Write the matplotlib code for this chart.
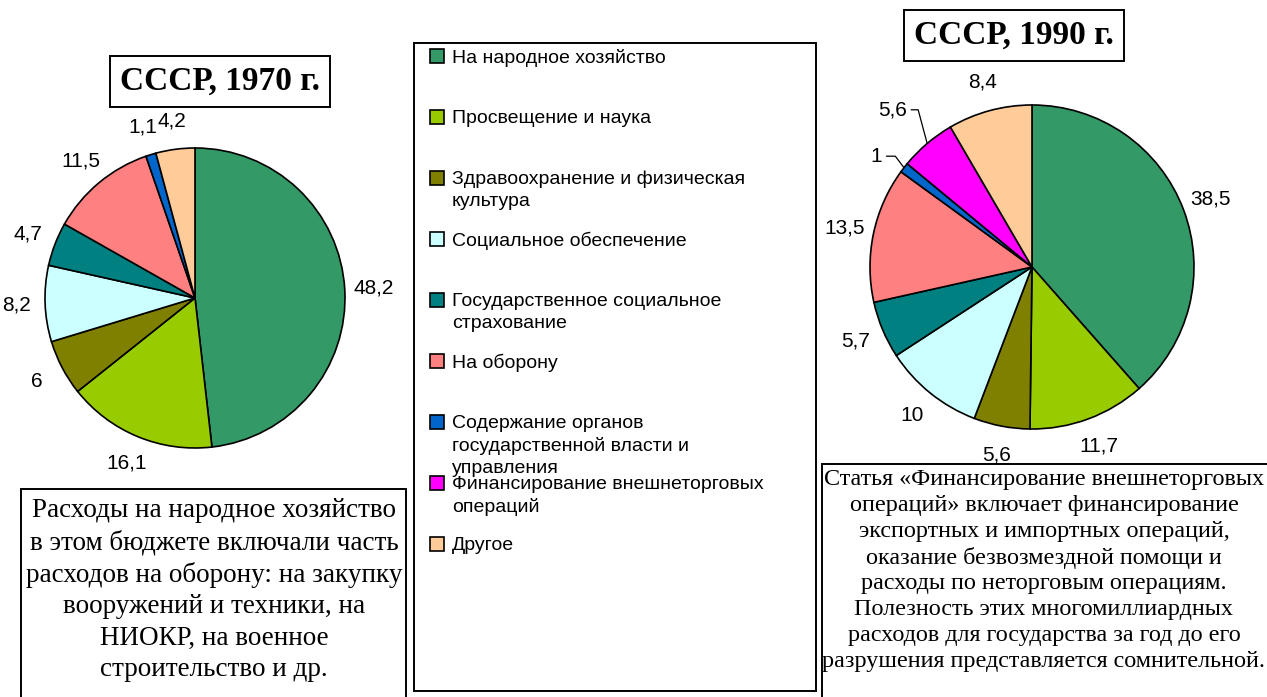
import numpy as np
import matplotlib.pyplot as plt
from matplotlib.patches import Rectangle

# ------------------------------------------------------------------
# Данные: структура расходов госбюджета СССР, %
# ------------------------------------------------------------------
categories = [
    'На народное хозяйство',
    'Просвещение и наука',
    'Здравоохранение и физическая\nкультура',
    'Социальное обеспечение',
    'Государственное социальное\nстрахование',
    'На оборону',
    'Содержание органов\nгосударственной власти и\nуправления',
    'Финансирование внешнеторговых\nопераций',
    'Другое',
]
colors = ['#339966', '#99CC00', '#808000', '#CCFFFF', '#008080',
          '#FF8080', '#0066CC', '#FF00FF', '#FFCC99']

values_1970 = [48.2, 16.1, 6, 8.2, 4.7, 11.5, 1.1, 0, 4.2]
values_1990 = [38.5, 11.7, 5.6, 10, 5.7, 13.5, 1, 5.6, 8.4]

note_1970 = ('Расходы на народное хозяйство\n'
             'в этом бюджете включали часть\n'
             'расходов на оборону: на закупку\n'
             'вооружений и техники, на\n'
             'НИОКР, на военное\n'
             'строительство и др.')
note_1990 = ('Статья «Финансирование внешнеторговых\n'
             'операций» включает финансирование\n'
             'экспортных и импортных операций,\n'
             'оказание безвозмездной помощи и\n'
             'расходы по неторговым операциям.\n'
             'Полезность этих многомиллиардных\n'
             'расходов для государства за год до его\n'
             'разрушения представляется сомнительной.')

W, H = 1267, 697
SANS = ['Liberation Sans', 'DejaVu Sans']
SERIF = ['Liberation Serif', 'DejaVu Serif']


def fmt(v):
    return f'{v:g}'.replace('.', ',')


fig = plt.figure(figsize=(W / 100, H / 100), dpi=100)
ax = fig.add_axes([0, 0, 1, 1])


def draw_pie(values, cx, cy, r, dist, callouts=None):
    callouts = callouts or {}
    idx = [i for i, v in enumerate(values) if v > 0]
    vals = [values[i] for i in idx]
    wedges, _ = ax.pie(vals, colors=[colors[i] for i in idx], startangle=90,
                       counterclock=False, center=(cx, cy), radius=r,
                       wedgeprops=dict(edgecolor='black', linewidth=1.2))
    for w, i, v in zip(wedges, idx, vals):
        ang = np.deg2rad((w.theta1 + w.theta2) / 2)
        if i in callouts:
            # подпись с выноской
            d, a_txt, ang_b = callouts[i]
            a_txt = np.deg2rad(a_txt)
            ax.annotate(fmt(v), xy=(cx + r * np.cos(ang), cy + r * np.sin(ang)),
                        xytext=(cx + d * r * np.cos(a_txt), cy + d * r * np.sin(a_txt)),
                        ha='right', va='center', fontsize=15, family=SANS,
                        arrowprops=dict(arrowstyle='-', color='black', lw=0.9,
                                        shrinkA=1, shrinkB=0, relpos=(1, 0.5),
                                        connectionstyle=f'angle,angleA=0,angleB={ang_b},rad=0'))
        else:
            ax.text(cx + dist * r * np.cos(ang), cy + dist * r * np.sin(ang), fmt(v),
                    ha='center', va='center', fontsize=15, family=SANS)


draw_pie(values_1970, 195, H - 298, 150, 1.19)
draw_pie(values_1990, 1032, H - 267, 162, 1.18,
         callouts={6: (1.15, 143.5, 127), 7: (1.24, 128.5, 105)})

# заголовки
title_box = dict(boxstyle='square,pad=0.3', fc='white', ec='black', lw=1.4)
ax.text(220, H - 81, 'СССР, 1970 г.', ha='center', va='center', fontsize=24,
        fontweight='bold', family=SERIF, bbox=title_box)
ax.text(1014, H - 35, 'СССР, 1990 г.', ha='center', va='center', fontsize=24,
        fontweight='bold', family=SERIF, bbox=title_box)

# легенда
ax.add_patch(Rectangle((414, H - 691), 402, 648, fc='white', ec='black', lw=1.4))
for k, (name, c) in enumerate(zip(categories, colors)):
    y = H - 56 - 61 * k
    ax.add_patch(Rectangle((430, y - 7), 14, 14, fc=c, ec='black', lw=1.2))
    ax.text(452, y + 7, name, ha='left', va='top', fontsize=14,
            family=SANS, linespacing=1.36)

# пояснения
ax.add_patch(Rectangle((21, -10), 385, H - 489 + 10, fc='white', ec='black', lw=1.4))
ax.text(214, H - 498, note_1970, ha='center', va='top', fontsize=19.5,
        family=SERIF, linespacing=1.34)
ax.add_patch(Rectangle((822, -10), 460, H - 464 + 10, fc='white', ec='black', lw=1.4))
ax.text(1044, H - 469, note_1990, ha='center', va='top', fontsize=17.4,
        family=SERIF, linespacing=1.3)

ax.set_xlim(0, W)
ax.set_ylim(0, H)
ax.set_aspect('equal')
ax.axis('off')

fig.savefig('out.png', dpi=100)
